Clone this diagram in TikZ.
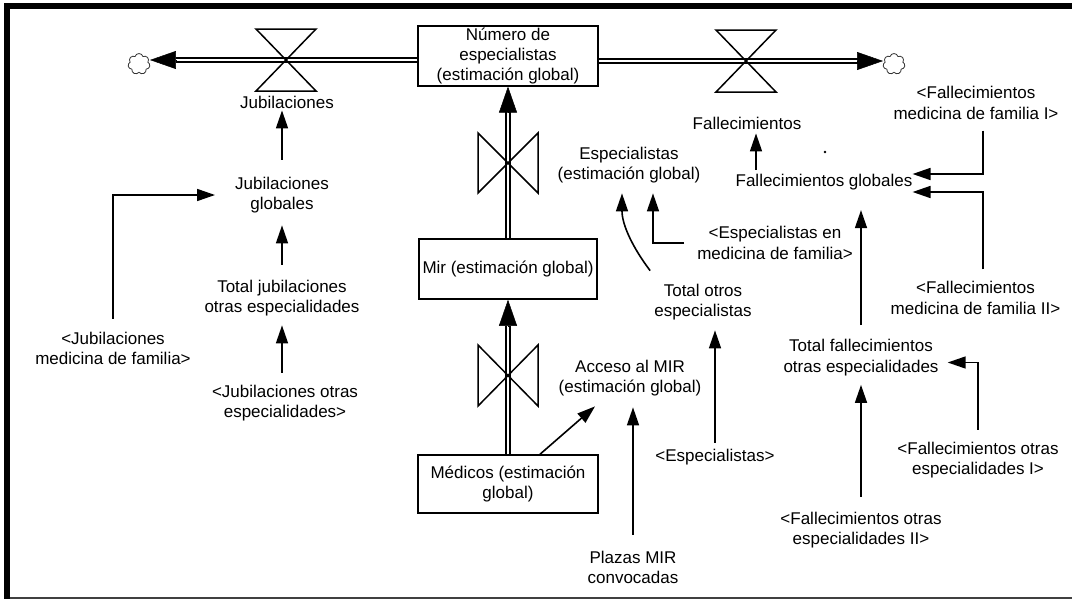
\documentclass[tikz,border=0pt]{standalone}
\usepackage{fontspec}
\setmainfont{Liberation Sans}
\usetikzlibrary{arrows.meta,shapes.symbols}
\begin{document}
\begin{tikzpicture}[x=1pt,y=-1pt,
  lbl/.style={font=\fontsize{17}{20.5}\selectfont, align=center, inner sep=0pt},
  stock/.style={draw, line width=1.5pt, font=\fontsize{17}{19.8}\selectfont, align=center,
    minimum width=180pt, minimum height=58pt, inner sep=2pt},
  conn/.style={line width=1.6pt, -{Triangle[length=18pt,width=12pt]}},
  pipe/.style={double, double distance=2.4pt, line width=1.4pt},
  pipetip/.style={-{Triangle[length=26pt,width=18pt]}, line width=0.5pt},
  valve/.style={line width=1.5pt, line join=miter},
  cloudn/.style={cloud, cloud puffs=7, draw=black!80, line width=0.8pt,
    minimum width=22pt, minimum height=21pt, inner sep=0pt}]
\useasboundingbox (0,0) rectangle (1072,600);
% frame
\fill[black] (4,3) rectangle (1072,9);
\fill[black] (4,3) rectangle (10,599);
\draw[line width=2pt, black!75] (10,598) -- (1072,598);

% stocks
\node[stock] (num) at (508,56) {Número de\\especialistas\\(estimación global)};
\node[stock, minimum width=178pt, minimum height=60pt] (mir) at (508,269) {Mir (estimación global)};
\node[stock] (med) at (508,484) {Médicos (estimación\\global)};

% clouds
\node[cloudn] (c1) at (139,64) {};
\node[cloudn] (c2) at (894,64) {};

% valve centres
\coordinate (v1) at (286,60);
\coordinate (v2) at (746,61);
\coordinate (v3) at (508,163);
\coordinate (v4) at (508,375);

% pipes
\path (c1.east |- v1) coordinate (c1e) (c2.west |- v2) coordinate (c2w);
\draw[pipe] (num.west |- v1) -- ([xshift=26pt]c1e);
\draw[pipetip] ([xshift=26pt]c1e) -- (c1e);
\draw[pipe] (num.east |- v2) -- ([xshift=-25pt]c2w);
\draw[pipetip] ([xshift=-25pt]c2w) -- (c2w);
\draw[pipe] (mir.north) -- ([yshift=-25pt]num.south);
\draw[pipetip] ([yshift=-25pt]num.south) -- (num.south);
\draw[pipe] (med.north) -- ([yshift=-26pt]mir.south);
\draw[pipetip] ([yshift=-26pt]mir.south) -- (mir.south);

% valves
\draw[valve] (v1) ++(-30,-31) -- ++(60,0) -- ++(-60,62) -- ++(60,0) -- cycle;
\draw[valve] (v2) ++(-30,-31) -- ++(60,0) -- ++(-60,62) -- ++(60,0) -- cycle;
\draw[valve] (v3) ++(-30,-30) -- ++(0,60) -- ++(60,-60) -- ++(0,60) -- cycle;
\draw[valve] (v4) ++(-30,-30) -- ++(0,61) -- ++(60,-61) -- ++(0,61) -- cycle;

% labels
\node[lbl] (jub) at (287,102) {Jubilaciones};
\node[lbl] (fal) at (747,123) {Fallecimientos};
\node[lbl] (jubg) at (282,195) {Jubilaciones\\globales};
\node[lbl] (totjub) at (282,298) {Total jubilaciones\\otras especialidades};
\node[lbl] (jubotr) at (285,403) {<Jubilaciones otras\\especialidades>};
\node[lbl] (jubmf) at (113,348.5) {<Jubilaciones\\medicina de familia>};
\node[lbl] (esp) at (629,165) {Especialistas\\(estimación global)};
\node[lbl] (espmf) at (775,243) {<Especialistas en\\medicina de familia>};
\node[lbl] (toe) at (703,302) {Total otros\\especialistas};
\node[lbl] (acceso) at (630,378) {Acceso al MIR\\(estimación global)};
\node[lbl] (espec) at (715,457) {<Especialistas>};
\node[lbl] (plazas) at (633,567.5) {Plazas MIR\\convocadas};
\node[lbl] (falg) at (824,182) {Fallecimientos globales};
\node[lbl] (falmf1) at (976,103) {<Fallecimientos\\medicina de familia I>};
\node[lbl] (falmf2) at (975.5,298) {<Fallecimientos\\medicina de familia II>};
\node[lbl] (totfal) at (861,357.5) {Total fallecimientos\\otras especialidades};
\node[lbl] (faloe1) at (978,460) {<Fallecimientos otras\\especialidades I>};
\node[lbl] (faloe2) at (861,530) {<Fallecimientos otras\\especialidades II>};
\node[circle, fill, inner sep=0.9pt] (dot) at (825,152) {};

% connectors
\draw[conn, shorten <=17pt, shorten >=2pt] (jubg.north) -- (jubg.north |- jub.south);
\draw[conn, shorten <=15pt, shorten >=12pt] (totjub.north) -- (jubg.south);
\draw[conn, shorten <=12pt, shorten >=9pt] (totjub.south |- jubotr.north) -- (totjub.south);
\draw[conn, shorten <=13pt, shorten >=20pt] (jubmf.north) |- (jubg.west);
\draw[conn] ([xshift=-4pt,yshift=13pt]toe.north west) .. controls (633,248) and (622,225) .. ([xshift=-7pt,yshift=-10pt]esp.south);
\draw[conn, shorten <=13pt] (espmf.west) -| ([xshift=24pt,yshift=-10pt]esp.south);
\draw[conn, shorten <=6pt, shorten >=10pt] (espec.north) -- (espec.north |- toe.south);
\draw[conn] ([xshift=32pt]med.north) -- ([xshift=-35pt,yshift=-10pt]acceso.south);
\draw[conn, shorten <=16pt, shorten >=11pt] (plazas.north) -- (plazas.north |- acceso.south);
\draw[conn, shorten <=4pt, shorten >=4pt] ([xshift=-68pt]falg.north) -- ([xshift=-68pt]falg.north |- fal.south);
\draw[conn, shorten <=11pt] ([xshift=7pt]falmf1.south) |- ([yshift=8pt]falg.east);
\draw[conn, shorten <=12pt] ([xshift=7.5pt]falmf2.north) |- ([yshift=-10pt]falg.east);
\draw[conn, shorten <=14pt, shorten >=20pt] (totfal.north) -- (totfal.north |- falg.south);
\draw[conn, shorten <=12pt, shorten >=9pt] (faloe1.north) |- ([yshift=-5pt]totfal.east);
\draw[conn, shorten <=15pt, shorten >=9pt] (faloe2.north) -- (faloe2.north |- totfal.south);
\end{tikzpicture}
\end{document}
